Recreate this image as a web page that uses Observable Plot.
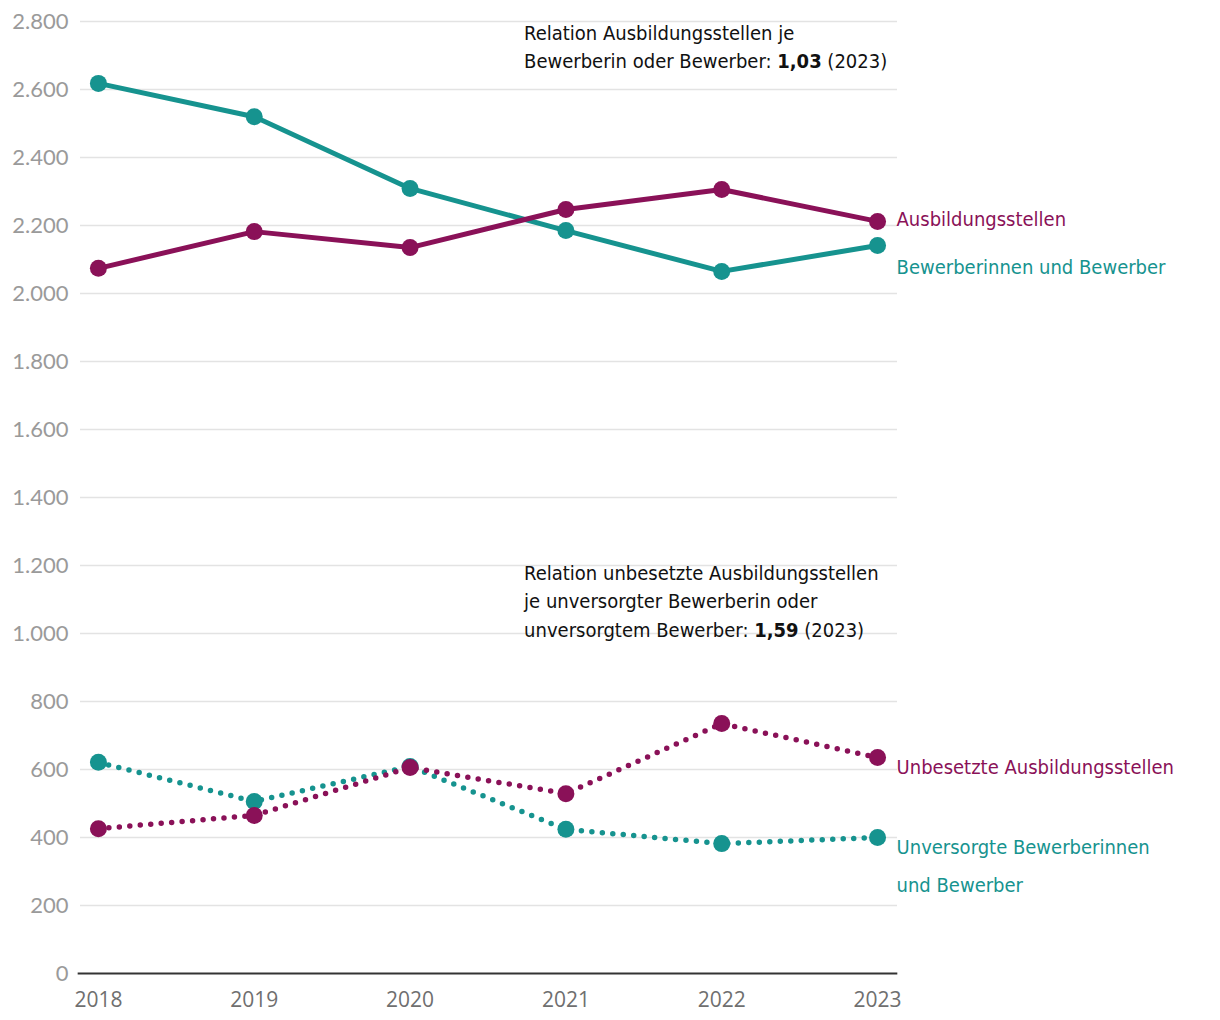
<!DOCTYPE html>
<html>
<head>
<meta charset="utf-8">
<script src="https://cdn.jsdelivr.net/npm/d3@7"></script>
<script src="https://cdn.jsdelivr.net/npm/@observablehq/plot@0.6"></script>
<style>
  html, body { margin: 0; padding: 0; background: #fff; }
  #wrap { position: relative; width: 1220px; height: 1020px; }
  .note { position: absolute; font-family: "DejaVu Sans Condensed", "Roboto", sans-serif; font-size: 20px; line-height: 28.5px; color: #111; white-space: nowrap; }
  .note b { font-weight: 700; }
</style>
</head>
<body>
<div id="wrap"></div>
<script>
const years = [2018, 2019, 2020, 2021, 2022, 2023];
const ausbildungsstellen = [2074, 2182, 2135, 2247, 2306, 2212];
const bewerber = [2618, 2520, 2309, 2185, 2065, 2141];
const unbesetzt = [426, 465, 606, 529, 735, 635];
const unversorgt = [621, 506, 609, 424, 382, 400];
const yTicks = [0, 200, 400, 600, 800, 1000, 1200, 1400, 1600, 1800, 2000, 2200, 2400, 2600, 2800];

const TEAL = "#16938f";
const MAGENTA = "#8a1158";

const seriesNames = ["Ausbildungsstellen", "Bewerberinnen und Bewerber", "Unbesetzte Ausbildungsstellen", "Unversorgte Bewerberinnen und Bewerber"];
const seriesValues = [ausbildungsstellen, bewerber, unbesetzt, unversorgt];
const seriesColors = [MAGENTA, TEAL, MAGENTA, TEAL];
const seriesDotted = [false, false, true, true];

const endLabels = [
  {text: "Ausbildungsstellen", y: 2212, color: MAGENTA},
  {text: "Bewerberinnen und Bewerber", y: 2070, color: TEAL},
  {text: "Unbesetzte Ausbildungsstellen", y: 598, color: MAGENTA},
  {text: "Unversorgte Bewerberinnen\nund Bewerber", y: 307, color: TEAL}
];

const notes = [
  {x: 2020.735, y: 2806, html: "Relation Ausbildungsstellen je<br>Bewerberin oder Bewerber: <b>1,03</b> (2023)"},
  {x: 2020.735, y: 1218, html: "Relation unbesetzte Ausbildungsstellen<br>je unversorgter Bewerberin oder<br>unversorgtem Bewerber: <b>1,59</b> (2023)"}
];

const rows = [];
seriesNames.forEach((name, i) => {
  years.forEach((yr, j) => rows.push({series: name, year: yr, value: seriesValues[i][j], color: seriesColors[i], dotted: seriesDotted[i], order: i}));
});

const de = d3.formatLocale({decimal: ",", thousands: ".", grouping: [3], currency: ["", "€"]});
const fmt = de.format(",");

// draw teal before magenta
const drawOrder = [1, 0, 3, 2];
const marks = [
  Plot.ruleY(yTicks.filter(d => d > 0), {stroke: "#e3e3e3", strokeWidth: 1.5}),
  Plot.axisY(yTicks, {tickSize: 0, tickPadding: 12, tickFormat: fmt, fill: "#9a9a9a", fontSize: 22, fontFamily: "Lato, sans-serif", label: null}),
  Plot.axisX(years, {tickSize: 0, tickPadding: 19, tickFormat: d => String(d), fill: "#6f6f6f", fontSize: 21, fontFamily: "'Open Sans', sans-serif", label: null})
];
drawOrder.forEach(i => {
  const data = rows.filter(r => r.order === i);
  marks.push(Plot.line(data, {x: "year", y: "value", stroke: seriesColors[i], strokeWidth: seriesDotted[i] ? 5.5 : 5,
    strokeDasharray: seriesDotted[i] ? "0 10.5" : null, strokeLinecap: "round", strokeLinejoin: "round"}));
});
drawOrder.forEach(i => {
  const data = rows.filter(r => r.order === i);
  marks.push(Plot.dot(data, {x: "year", y: "value", r: 8.5, fill: seriesColors[i]}));
});
marks.push(Plot.ruleY([0], {stroke: "#333", strokeWidth: 2.2, x1: 2017.87, x2: 2023.13}));
marks.push(Plot.text(endLabels, {x: () => 2023, y: "y", text: "text", fill: "color", dx: 19, dy: -8, textAnchor: "start",
  lineAnchor: "middle", lineHeight: 1.9, fontSize: 20, fontFamily: "'DejaVu Sans Condensed', sans-serif"}));

const chart = Plot.plot({
  width: 1220,
  height: 1020,
  marginLeft: 80,
  marginRight: 323,
  marginTop: 21,
  marginBottom: 47,
  x: {domain: [2017.885, 2023.128], axis: null},
  y: {domain: [0, 2800], axis: null},
  style: {background: "#fff"},
  marks
});
const wrap = document.getElementById("wrap");
wrap.appendChild(chart);

const xs = chart.scale("x"), ys = chart.scale("y");
notes.forEach(n => {
  const d = document.createElement("div");
  d.className = "note";
  d.style.left = xs.apply(n.x) + "px";
  d.style.top = ys.apply(n.y) + "px";
  d.innerHTML = n.html;
  wrap.appendChild(d);
});
</script>
</body>
</html>
